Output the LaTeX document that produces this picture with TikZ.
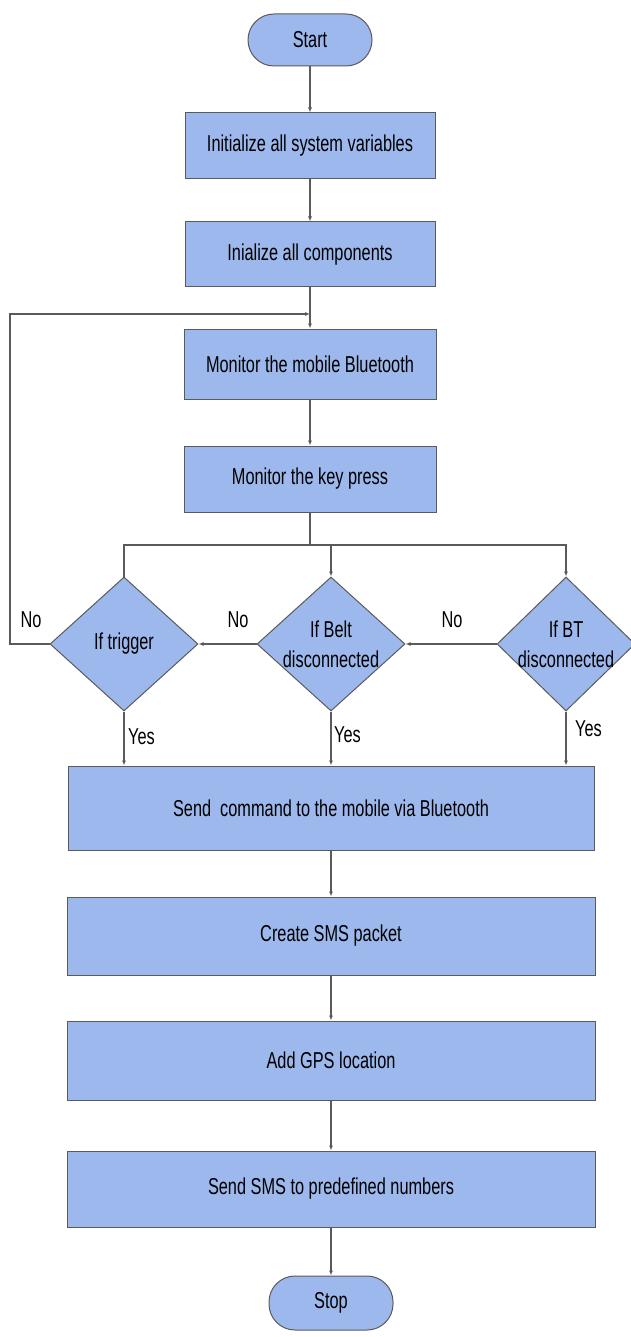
\documentclass[tikz,border=0pt]{standalone}
\usepackage{fontspec}
\setmainfont{Liberation Sans}[FakeStretch=0.71]
\usetikzlibrary{shapes.geometric,arrows.meta}
\definecolor{boxfill}{HTML}{9DB8EC}
\definecolor{linegray}{HTML}{5A5A5A}
\begin{document}
\begin{tikzpicture}[x=1pt,y=-1pt,
  every node/.style={font=\fontsize{23}{30}\selectfont},
  proc/.style={draw=linegray, fill=boxfill, line width=1pt, rectangle, inner sep=0pt},
  term/.style={draw=linegray, fill=boxfill, line width=1pt, rectangle, rounded corners=26pt, minimum width=124pt, minimum height=52pt, inner sep=0pt},
  decision/.style={draw=linegray, fill=boxfill, line width=1pt, diamond, minimum width=148pt, minimum height=134pt, inner sep=0pt},
  dtext/.style={label={[align=center, inner sep=0pt]center:#1}},
  conn/.style={draw=linegray, line width=1.1pt},
  arr/.style={conn, -{Latex[length=5pt,width=4pt]}},
  lbl/.style={inner sep=0pt}
]
\useasboundingbox (0,0) rectangle (631,1337);

\node[term] (start) at (310,40) {Start};
\node[proc, minimum width=250pt, minimum height=66pt] (init) at (310,146) {Initialize all system variables};
\node[proc, minimum width=250pt, minimum height=65pt] (comp) at (310,254.5) {Inialize all components};
\node[proc, minimum width=252pt, minimum height=70pt] (mbt) at (310,364) {Monitor the mobile Bluetooth};
\node[proc, minimum width=252pt, minimum height=66pt] (key) at (310,479) {Monitor the key press};

\node[decision, dtext={If trigger}] (trig) at (124,644) {};
\node[decision, dtext={If Belt\\disconnected}] (belt) at (331,644) {};
\node[decision, minimum width=138pt, dtext={If BT\\disconnected}] (bt) at (566,644) {};

\node[proc, minimum width=526pt, minimum height=84pt] (send) at (331,808) {Send\ \ command to the mobile via Bluetooth};
\node[proc, minimum width=528pt, minimum height=78pt] (sms) at (331,936) {Create SMS packet};
\node[proc, minimum width=528pt, minimum height=79pt] (gps) at (331,1060.5) {Add GPS location};
\node[proc, minimum width=528pt, minimum height=76pt] (num) at (331,1189) {Send SMS to predefined numbers};
\node[term, minimum height=54pt] (stop) at (331,1303) {Stop};

\coordinate (lc) at (10,314);
\coordinate (lr) at (310,314);
\coordinate (br) at (310,545);

\draw[arr] (start) -- (init);
\draw[arr] (init) -- (comp);
\draw[arr] (comp) -- (mbt);
\draw[arr] (mbt) -- (key);

\draw[conn] (key.south) -- (br);
\draw[arr] (trig.north) |- (bt.north |- br) -- (bt.north);
\draw[arr] (belt.north |- br) -- (belt.north);

\draw[arr] (bt.west) -- (belt.east);
\draw[arr] (belt.west) -- (trig.east);
\draw[arr] (trig.west) -| (lc) -- (lr);

\node[lbl] (no1) at (452,620) {No};
\node[lbl] (no2) at (238,620) {No};
\node[lbl] (no3) at (31,620) {No};

\draw[arr] (trig.south) -- (trig.south |- send.north);
\draw[arr] (belt.south) -- (belt.south |- send.north);
\draw[arr] (bt.south) -- (bt.south |- send.north);
\node[lbl, anchor=west] (y1) at (128,737) {Yes};
\node[lbl, anchor=west] (y2) at (334,735) {Yes};
\node[lbl, anchor=west] (y3) at (575,729) {Yes};

\draw[arr] (send) -- (sms);
\draw[arr] (sms) -- (gps);
\draw[arr] (gps) -- (num);
\draw[arr] (num) -- (stop);
\end{tikzpicture}
\end{document}
